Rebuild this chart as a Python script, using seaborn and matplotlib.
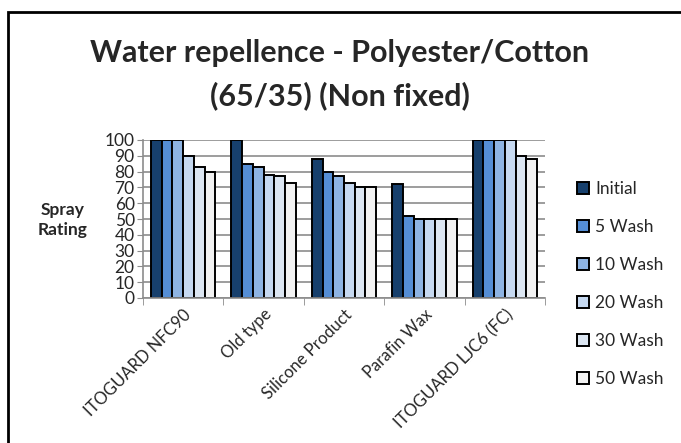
import matplotlib
matplotlib.use("Agg")
import matplotlib.pyplot as plt
import seaborn as sns
import pandas as pd
import numpy as np
from matplotlib.patches import Rectangle, Patch

categories = ["ITOGUARD NFC90", "Old type", "Silicone Product", "Parafin Wax", "ITOGUARD LJC6 (FC)"]
series = ["Initial", "5 Wash", "10 Wash", "20 Wash", "30 Wash", "50 Wash"]
initial = [100, 100, 88, 72, 100]
wash5 = [100, 85, 80, 52, 100]
wash10 = [100, 83, 77, 50, 100]
wash20 = [90, 78, 73, 50, 100]
wash30 = [83, 77, 70, 50, 90]
wash50 = [80, 73, 70, 50, 88]
yticks = list(range(0, 101, 10))
colors = ["#17406D", "#558ED5", "#8EB4E3", "#C6D9F1", "#DCE6F2", "#F2F2F2"]

values = [initial, wash5, wash10, wash20, wash30, wash50]
rows = []
for s, vals in zip(series, values):
    for c, v in zip(categories, vals):
        rows.append({"Product": c, "Series": s, "Rating": v})
df = pd.DataFrame(rows)

sns.set_style("white")
plt.rcParams["font.family"] = ["Lato", "DejaVu Sans"]

fig = plt.figure(figsize=(6.81, 4.43), dpi=100)
ax = fig.add_axes([143/681, 1 - 298/443, (545-143)/681, (298-140)/443])

sns.barplot(data=df, x="Product", y="Rating", hue="Series", order=categories,
            hue_order=series, palette=colors, edgecolor="black", linewidth=1.4,
            width=0.8, ax=ax, legend=False, saturation=1)

ax.set_ylim(0, 100)
ax.set_xlim(-0.5, len(categories) - 0.5)
ax.set_yticks(yticks)
ax.set_yticklabels([str(t) for t in yticks], fontsize=12.5)
ax.yaxis.grid(True, color="#8C8C8C", linewidth=1.2)
ax.set_axisbelow(True)
ax.set_xlabel("")
ax.set_ylabel("")
for s in ["top", "right"]:
    ax.spines[s].set_visible(False)
for s in ["left", "bottom"]:
    ax.spines[s].set_color("#8C8C8C")
    ax.spines[s].set_linewidth(1.2)
ax.tick_params(axis="y", which="major", length=4, color="#8C8C8C", pad=2, left=True)
ax.set_xticks(range(len(categories)))
ax.set_xticklabels(categories, rotation=45, ha="right", rotation_mode="anchor", fontsize=12)
ax.set_xticks(np.arange(-0.5, len(categories)), minor=True)
ax.tick_params(axis="x", which="major", length=0, pad=6)
ax.tick_params(axis="x", which="minor", length=5, color="#8C8C8C", bottom=True)

fig.text(340/681, 1 - 53/443, "Water repellence - Polyester/Cotton", ha="center", va="center",
         fontsize=22, fontweight="bold")
fig.text(340/681, 1 - 96/443, "(65/35) (Non fixed)", ha="center", va="center",
         fontsize=22, fontweight="bold")
fig.text(63/681, 1 - 220/443, "Spray\nRating", ha="center", va="center",
         fontsize=12.5, fontweight="bold", linespacing=1.3)

handles = [Patch(facecolor=c, edgecolor="black", linewidth=1.4) for c in colors]
fig.legend(handles, series, loc="upper left", bbox_to_anchor=(570/681, 1 - 174/443),
           frameon=False, fontsize=12.5, handlelength=0.7, handleheight=0.7,
           handletextpad=0.35, labelspacing=1.27, borderaxespad=0)

fig.patches.append(Rectangle((8/681, -0.1), 1.2, 1 - 12/443 + 0.1, transform=fig.transFigure,
                             fill=False, edgecolor="black", linewidth=2))

fig.savefig("out.png", dpi=100)
